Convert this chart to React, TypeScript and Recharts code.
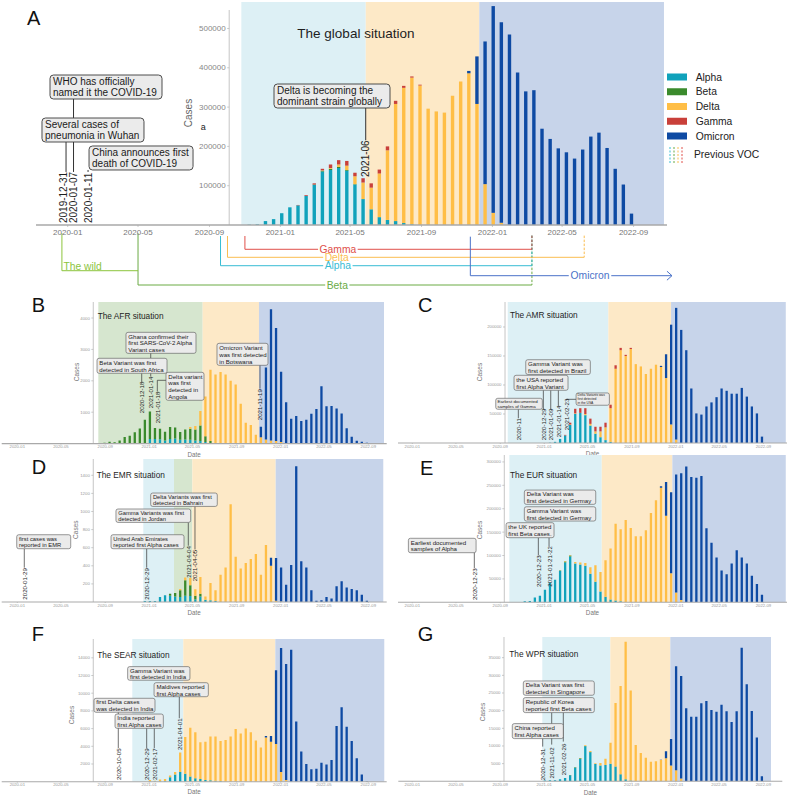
import React from 'react';
import { BarChart, Bar, XAxis, YAxis, ReferenceArea, ReferenceLine, ReferenceDot, Legend } from 'recharts';

const FONT = '"Liberation Sans", Arial, Helvetica, sans-serif';
const EPOCH = Date.UTC(2020, 0, 1);
const toDay = (s: string) => {
  const p = s.split('-').map(Number);
  return Math.round((Date.UTC(p[0], p[1] - 1, p[2] || 1) - EPOCH) / 86400000);
};

// ---------- categories ----------
const DATES = [
  '2020-08-03', '2020-08-17', '2020-08-31', '2020-09-14', '2020-09-28', '2020-10-12', '2020-10-26', '2020-11-09', '2020-11-23', '2020-12-07',
  '2020-12-21', '2021-01-04', '2021-01-18', '2021-02-01', '2021-02-15', '2021-03-01', '2021-03-15', '2021-03-29', '2021-04-12', '2021-04-26',
  '2021-05-10', '2021-05-24', '2021-06-07', '2021-06-21', '2021-07-05', '2021-07-19', '2021-08-02', '2021-08-16', '2021-08-30', '2021-09-13',
  '2021-09-27', '2021-10-11', '2021-10-25', '2021-11-08', '2021-11-22', '2021-12-06', '2021-12-20', '2022-01-03', '2022-01-17', '2022-01-31',
  '2022-02-14', '2022-02-28', '2022-03-14', '2022-03-28', '2022-04-11', '2022-04-25', '2022-05-09', '2022-05-23', '2022-06-06', '2022-06-20',
  '2022-07-04', '2022-07-18', '2022-08-01', '2022-08-15', '2022-08-29',
];
const TICK_LABELS = ['2020-01', '2020-05', '2020-09', '2021-01', '2021-05', '2021-09', '2022-01', '2022-05', '2022-09'];
const TICK_DAYS = TICK_LABELS.map((t) => toDay(t + '-01'));

const SERIES = [
  { key: 'alpha', name: 'Alpha' },
  { key: 'beta', name: 'Beta' },
  { key: 'delta', name: 'Delta' },
  { key: 'gamma', name: 'Gamma' },
  { key: 'omicron', name: 'Omicron' },
];
const COLORS: Record<string, string> = {
  alpha: '#10a2bb', beta: '#3a8a2c', delta: '#ffbe46', gamma: '#c9403a', omicron: '#0e4aa3',
};
const BAND = { light: '#ddf0f5', orange: '#fde9c7', navy: '#c7d4ea', green: '#d6e6cf' };

// ---------- global ----------
const GLOBAL_ALPHA = [
  0, 0, 0, 0, 0, 0, 0, 1000, 2000, 10000,
  15000, 30000, 45000, 50000, 74000, 102000, 136000, 140000, 145000, 138000,
  103000, 66000, 40000, 20000, 13000, 10000, 5000, 2000, 0, 0,
  0, 0, 0, 0, 0, 0, 0, 0, 0, 0,
  0, 0, 0, 0, 0, 0, 0, 0, 0, 0,
  0, 0, 0, 0, 0];
const GLOBAL_BETA = [
  0, 0, 0, 0, 0, 0, 0, 0, 0, 0,
  0, 0, 0, 0, 0, 1000, 2000, 3000, 3000, 2000,
  1000, 0, 0, 0, 0, 0, 0, 0, 0, 0,
  0, 0, 0, 0, 0, 0, 0, 0, 0, 0,
  0, 0, 0, 0, 0, 0, 0, 0, 0, 0,
  0, 0, 0, 0, 0];
const GLOBAL_DELTA = [
  0, 0, 0, 0, 0, 0, 0, 0, 0, 0,
  0, 0, 0, 0, 0, 0, 1000, 2000, 6000, 11000,
  20000, 42000, 55000, 111000, 177000, 298000, 344000, 373000, 355000, 296000,
  289000, 286000, 329000, 365000, 386000, 308000, 104000, 31000, 6000, 0,
  0, 0, 0, 0, 0, 0, 0, 0, 0, 0,
  0, 0, 0, 0, 0];
const GLOBAL_GAMMA = [
  0, 0, 0, 0, 0, 0, 0, 0, 0, 0,
  0, 0, 0, 1000, 2000, 3000, 4000, 9000, 11000, 12000,
  9000, 11000, 11000, 10000, 10000, 8000, 5000, 3000, 2000, 0,
  0, 0, 0, 0, 0, 0, 0, 0, 0, 0,
  0, 0, 0, 0, 0, 0, 0, 0, 0, 0,
  0, 0, 0, 0, 0];
const GLOBAL_OMICRON = [
  0, 0, 0, 0, 0, 0, 0, 0, 0, 0,
  0, 0, 0, 0, 0, 0, 0, 0, 0, 0,
  0, 0, 0, 0, 0, 0, 0, 0, 0, 0,
  0, 0, 0, 0, 6000, 121000, 363000, 526000, 510000, 485000,
  388000, 340000, 343000, 245000, 219000, 195000, 185000, 169000, 192000, 225000,
  235000, 196000, 143000, 103000, 29000];

// ---------- AFR ----------
const AFR_ALPHA = [
  0, 0, 0, 0, 0, 0, 0, 0, 0, 0,
  0, 150, 150, 140, 100, 150, 160, 120, 130, 120,
  100, 80, 50, 20, 0, 0, 0, 0, 0, 0,
  0, 0, 0, 0, 0, 0, 0, 0, 0, 0,
  0, 0, 0, 0, 0, 0, 0, 0, 0, 0,
  0, 0, 0, 0, 0];
const AFR_BETA = [
  0, 0, 30, 60, 40, 100, 210, 250, 360, 480,
  760, 870, 350, 330, 280, 380, 350, 250, 320, 350,
  350, 500, 180, 60, 20, 0, 0, 0, 0, 0,
  0, 0, 0, 0, 0, 0, 0, 0, 0, 0,
  0, 0, 0, 0, 0, 0, 0, 0, 0, 0,
  0, 0, 0, 0, 0];
const AFR_DELTA = [
  0, 0, 0, 0, 0, 0, 0, 0, 0, 0,
  0, 0, 0, 0, 0, 0, 0, 0, 0, 60,
  110, 460, 1270, 2270, 2180, 2280, 2200, 2000, 1880, 1270,
  660, 590, 280, 200, 130, 100, 80, 50, 0, 0,
  0, 0, 0, 0, 0, 0, 0, 0, 0, 0,
  0, 0, 0, 0, 0];
const AFR_OMICRON = [
  0, 0, 0, 0, 0, 0, 0, 0, 0, 0,
  0, 0, 0, 0, 0, 0, 0, 0, 0, 0,
  0, 0, 0, 0, 0, 0, 0, 0, 0, 0,
  0, 0, 0, 340, 2290, 4180, 3600, 2240, 1320, 790,
  880, 720, 760, 950, 1100, 1830, 1190, 1200, 1120, 960,
  490, 220, 90, 60, 30];

// ---------- AMR ----------
const AMR_ALPHA = [
  0, 0, 0, 0, 0, 0, 0, 0, 0, 0,
  0, 0, 500, 2000, 7000, 13000, 31000, 50000, 52000, 48000,
  30000, 16000, 10000, 5000, 2000, 0, 0, 0, 0, 0,
  0, 0, 0, 0, 0, 0, 0, 0, 0, 0,
  0, 0, 0, 0, 0, 0, 0, 0, 0, 0,
  0, 0, 0, 0, 0];
const AMR_DELTA = [
  0, 0, 0, 0, 0, 0, 0, 0, 0, 0,
  0, 0, 0, 0, 0, 0, 1000, 1000, 0, 2000,
  3000, 4000, 10000, 22000, 58000, 128000, 160000, 150000, 162000, 136000,
  132000, 119000, 128000, 135000, 131000, 112000, 32000, 6000, 0, 0,
  0, 0, 0, 0, 0, 0, 0, 0, 0, 0,
  0, 0, 0, 0, 0];
const AMR_GAMMA = [
  0, 0, 0, 0, 0, 0, 0, 0, 0, 0,
  0, 0, 0, 0, 0, 1000, 3000, 8000, 8000, 10000,
  9000, 8000, 8000, 8000, 6000, 6000, 4000, 2000, 2000, 0,
  0, 0, 0, 0, 0, 0, 0, 0, 0, 0,
  0, 0, 0, 0, 0, 0, 0, 0, 0, 0,
  0, 0, 0, 0, 0];
const AMR_OMICRON = [
  0, 0, 0, 0, 0, 0, 0, 0, 0, 0,
  0, 0, 0, 0, 0, 0, 0, 0, 0, 0,
  0, 0, 0, 0, 0, 0, 0, 0, 0, 0,
  0, 0, 0, 0, 2000, 41000, 172000, 227000, 195000, 160000,
  94000, 51000, 49000, 63000, 70000, 79000, 94000, 90000, 85000, 85000,
  95000, 80000, 63000, 51000, 11000];

// ---------- EMR ----------
const EMR_ALPHA = [
  0, 0, 0, 0, 0, 0, 0, 0, 0, 0,
  10, 10, 10, 55, 75, 70, 60, 55, 70, 65,
  30, 60, 25, 20, 10, 0, 0, 0, 0, 0,
  0, 0, 0, 0, 0, 0, 0, 0, 0, 0,
  0, 0, 0, 0, 0, 0, 0, 0, 0, 0,
  0, 0, 0, 0, 0];
const EMR_BETA = [
  0, 0, 0, 0, 0, 0, 0, 0, 0, 0,
  0, 0, 0, 0, 0, 20, 40, 75, 170, 120,
  40, 30, 0, 0, 0, 0, 0, 0, 0, 0,
  0, 0, 0, 0, 0, 0, 0, 0, 0, 0,
  0, 0, 0, 0, 0, 0, 0, 0, 0, 0,
  0, 0, 0, 0, 0];
const EMR_DELTA = [
  0, 0, 0, 0, 0, 0, 0, 0, 0, 0,
  0, 0, 0, 0, 0, 0, 0, 15, 30, 80,
  70, 185, 35, 190, 120, 300, 380, 1080, 500, 370,
  430, 475, 530, 300, 630, 400, 15, 5, 0, 0,
  0, 0, 0, 0, 0, 0, 0, 0, 0, 0,
  0, 0, 0, 0, 0];
const EMR_OMICRON = [
  0, 0, 0, 0, 0, 0, 0, 0, 0, 0,
  0, 0, 0, 0, 0, 0, 0, 0, 0, 0,
  0, 0, 0, 0, 0, 0, 0, 0, 0, 0,
  0, 0, 0, 0, 0, 90, 470, 375, 190, 410,
  1500, 450, 380, 130, 15, 18, 55, 40, 175, 230,
  160, 145, 130, 80, 15];

// ---------- EUR ----------
const EUR_ALPHA = [
  0, 0, 0, 0, 0, 0, 0, 2000, 3000, 10000,
  14000, 27000, 42000, 48000, 67000, 85000, 98000, 83000, 81000, 78000,
  61000, 44000, 23000, 12000, 6000, 4000, 2000, 0, 0, 0,
  0, 0, 0, 0, 0, 0, 0, 0, 0, 0,
  0, 0, 0, 0, 0, 0, 0, 0, 0, 0,
  0, 0, 0, 0, 0];
const EUR_BETA = [
  0, 0, 0, 0, 0, 0, 0, 0, 0, 0,
  0, 0, 0, 0, 1000, 2000, 2000, 0, 0, 0,
  0, 0, 0, 0, 0, 0, 0, 0, 0, 0,
  0, 0, 0, 0, 0, 0, 0, 0, 0, 0,
  0, 0, 0, 0, 0, 0, 0, 0, 0, 0,
  0, 0, 0, 0, 0];
const EUR_DELTA = [
  0, 0, 0, 0, 0, 0, 0, 0, 0, 0,
  0, 0, 0, 0, 0, 1000, 1000, 3000, 4000, 6000,
  14000, 35000, 42000, 78000, 109000, 164000, 154000, 176000, 159000, 141000,
  141000, 154000, 191000, 218000, 245000, 185000, 62000, 21000, 5000, 0,
  0, 0, 0, 0, 0, 0, 0, 0, 0, 0,
  0, 0, 0, 0, 0];
const EUR_OMICRON = [
  0, 0, 0, 0, 0, 0, 0, 0, 0, 0,
  0, 0, 0, 0, 0, 0, 0, 0, 0, 0,
  0, 0, 0, 0, 0, 0, 0, 0, 0, 0,
  0, 0, 0, 0, 3000, 72000, 173000, 252000, 271000, 290000,
  268000, 266000, 270000, 158000, 127000, 96000, 68000, 60000, 83000, 111000,
  96000, 83000, 57000, 39000, 16000];

// ---------- SEAR ----------
const SEAR_ALPHA = [
  0, 0, 0, 0, 0, 0, 0, 0, 0, 0,
  0, 30, 40, 50, 70, 500, 800, 1100, 900, 600,
  400, 300, 200, 150, 100, 80, 0, 0, 0, 0,
  0, 0, 0, 0, 0, 0, 0, 0, 0, 0,
  0, 0, 0, 0, 0, 0, 0, 0, 0, 0,
  0, 0, 0, 0, 0];
const SEAR_DELTA = [
  0, 0, 0, 0, 0, 0, 0, 0, 0, 0,
  30, 150, 60, 200, 230, 200, 300, 2200, 4150, 5500,
  5200, 4150, 4300, 4950, 5000, 4520, 4700, 5100, 5950, 5450,
  6000, 5600, 4650, 3850, 5000, 4500, 4250, 1100, 200, 0,
  0, 0, 0, 0, 0, 0, 0, 0, 0, 0,
  0, 0, 0, 0, 0];
const SEAR_OMICRON = [
  0, 0, 0, 0, 0, 0, 0, 0, 0, 0,
  0, 0, 0, 0, 0, 0, 0, 0, 0, 0,
  0, 0, 0, 0, 0, 0, 0, 0, 0, 0,
  0, 0, 0, 0, 150, 650, 8350, 14000, 13100, 14900,
  6800, 3400, 2000, 1400, 1450, 2150, 1950, 2450, 6300, 8400,
  6200, 4600, 2650, 800, 50];

// ---------- WPR ----------
const WPR_ALPHA = [
  0, 0, 0, 0, 0, 0, 0, 0, 0, 0,
  0, 200, 300, 300, 600, 900, 1700, 3800, 6300, 9900,
  8200, 4900, 4500, 4600, 5000, 4200, 2000, 600, 200, 0,
  0, 0, 0, 0, 0, 0, 0, 0, 0, 0,
  0, 0, 0, 0, 0, 0, 0, 0, 0, 0,
  0, 0, 0, 0, 0];
const WPR_BETA = [
  0, 0, 0, 0, 0, 0, 0, 0, 0, 0,
  0, 0, 0, 0, 0, 0, 100, 200, 200, 100,
  100, 0, 0, 0, 0, 0, 0, 0, 0, 0,
  0, 0, 0, 0, 0, 0, 0, 0, 0, 0,
  0, 0, 0, 0, 0, 0, 0, 0, 0, 0,
  0, 0, 0, 0, 0];
const WPR_DELTA = [
  0, 0, 0, 0, 0, 0, 0, 0, 0, 0,
  0, 0, 0, 0, 0, 0, 0, 0, 100, 200,
  300, 200, 700, 1800, 5900, 18000, 25000, 38900, 25500, 10300,
  8000, 6700, 5500, 5700, 6000, 6500, 4500, 3100, 800, 0,
  0, 0, 0, 0, 0, 0, 0, 0, 0, 0,
  0, 0, 0, 0, 0];
const WPR_OMICRON = [
  0, 0, 0, 0, 0, 0, 0, 0, 0, 0,
  0, 0, 0, 0, 0, 0, 0, 0, 0, 0,
  0, 0, 0, 0, 0, 0, 0, 0, 0, 0,
  0, 0, 0, 0, 100, 2000, 7500, 29500, 29000, 20700,
  18300, 18300, 22100, 22700, 20200, 19700, 21700, 19800, 16800, 19800,
  37800, 27500, 19900, 12400, 1400];

// ---------- variant timeline (panel A) ----------
const TIMELINE = [
  { name: 'Beta', color: '#6aab45', start: '2020-05-01', end: '2022-03-10', tail: 'dash', label: '2021-04-09', top: -21100, level: -152700 },
  { name: 'Alpha', color: '#37bcd4', start: '2020-09-20', end: '2022-03-10', tail: 'dash', label: '2021-04-10', top: -28000, level: -103600 },
  { name: 'Delta', color: '#fbbd50', start: '2020-10-02', end: '2022-06-08', tail: 'dash', label: '2021-04-08', top: -28000, level: -82200 },
  { name: 'Gamma', color: '#e0504a', start: '2020-11-01', end: '2022-03-10', tail: 'dash', label: '2021-04-10', top: -28000, level: -61800 },
  { name: 'Omicron', color: '#4a72c8', start: '2021-11-24', end: '2022-11-06', tail: 'arrow', label: '2022-06-18', top: -29700, level: -129000 },
  { name: 'The wild', color: '#8cc43c', start: '2019-12-22', end: '2020-05-01', tail: 'none', label: '', top: -21100, level: -116300 },
];
const VOC_COLORS = ['#37bcd4', '#6aab45', '#fbbd50', '#e0504a'];

// ---------- helpers ----------
const CW: Record<string, number> = {
  ' ': 0.278, i: 0.222, l: 0.222, j: 0.222, t: 0.278, f: 0.278, r: 0.333, '-': 0.333, I: 0.278,
  m: 0.833, w: 0.722, M: 0.833, W: 0.944, G: 0.778, O: 0.778, C: 0.722, D: 0.722, A: 0.667, B: 0.667, T: 0.611,
};
const textW = (s: string, fs: number) => s.split('').reduce((a, c) => a + (CW[c] ?? 0.556), 0) * fs;

const seg = (key: string, x1: number, y1: number, x2: number, y2: number, stroke: string, w: number, dash?: string) => (
  <ReferenceLine key={key} segment={[{ x: x1, y: y1 }, { x: x2, y: y2 }]} stroke={stroke} strokeWidth={w}
    strokeDasharray={dash} ifOverflow="visible" />
);
const dot = (key: string, x: number, y: number, render: (cx: number, cy: number) => React.ReactElement) => (
  <ReferenceDot key={key} x={x} y={y} r={0} fill="none" stroke="none" ifOverflow="visible"
    shape={(p: any) => render(p.cx, p.cy)} />
);

type Box = { x: number; y: number; w: number; h: number; lines: string[]; fs?: number };
type VLab = { x: number; y: number; text: string };

interface Spec {
  id: string; left: number; top: number; width: number; height: number; ml: number; mr: number; xh: number;
  xDomain: [number, number]; yTop: number; yAxisDay: number; yAxisTop: number; yTicks: number[];
  series: Record<string, number[]>; bands: { x1: number; x2: number; fill: string }[];
  barSize: number; tickFs: number; tickSize: number; tickMargin: number; tickColor: string; axisW: number;
  yTickFs: number; yTickColor: string; yLabel: { y: number; dx: number; fs: number; color: string };
  title: { x: number; y: number; text: string; fs: number; anchor: 'start' | 'middle' };
  dateOffset?: number; boxes: Box[]; boxFs: number; boxStroke: string; boxRx: number; boxSW: number; boxPad: number;
  vlabels: VLab[]; vFs: number; segs: number[][]; segW: number; timeline?: boolean; legend?: boolean;
}

const SMALL = {
  barSize: 2.3, tickFs: 4.2, tickSize: 1, tickMargin: 0.8, tickColor: '#999', axisW: 1.1,
  yTickFs: 4.3, yTickColor: '#999', boxFs: 6.1, boxStroke: '#555', boxRx: 2, boxSW: 0.6, boxPad: 0.3,
  vFs: 6.2, segW: 0.7,
};
const yl = (y: number, dx: number) => ({ y, dx, fs: 6.5, color: '#777' });
const tt = (x: number, y: number, text: string) => ({ x, y, text, fs: 8.3, anchor: 'start' as const });

const SPEC_A: Spec = {
  id: 'A', left: 0, top: 2, width: 789, height: 296, ml: 36, mr: 122, xh: 73,
  xDomain: [-54.6, 1031.5], yTop: 567400, yAxisDay: 278, yAxisTop: 547000,
  yTicks: [100000, 200000, 300000, 400000, 500000],
  series: { alpha: GLOBAL_ALPHA, beta: GLOBAL_BETA, delta: GLOBAL_DELTA, gamma: GLOBAL_GAMMA, omicron: GLOBAL_OMICRON },
  bands: [{ x1: 298.8, x2: 513, fill: BAND.light }, { x1: 513, x2: 708.4, fill: BAND.orange }, { x1: 708.4, x2: 1026.3, fill: BAND.navy }],
  barSize: 3.4, tickFs: 8, tickSize: 2, tickMargin: 2, tickColor: '#777', axisW: 1.5,
  yTickFs: 8, yTickColor: '#888', yLabel: { y: 285000, dx: -41, fs: 10, color: '#666' },
  title: { x: 496, y: 488500, text: 'The global situation', fs: 13.5, anchor: 'middle' },
  boxes: [
    { x: 65.9, y: 351100, w: 112, h: 24, lines: ['WHO has officially', 'named it the COVID-19'] },
    { x: 43.5, y: 241700, w: 102, h: 24, lines: ['Several cases of', 'pneumonia in Wuhan'] },
    { x: 126.2, y: 170500, w: 104, h: 24, lines: ['China announces first', 'death of COVID-19'] },
    { x: 454.9, y: 328200, w: 116, h: 24, lines: ['Delta is becoming the', 'dominant strain globally'] },
  ],
  boxFs: 10, boxStroke: '#3a3a3a', boxRx: 3.5, boxSW: 0.9, boxPad: 0.25,
  vlabels: [
    { x: -8.1, y: 5000, text: '2019-12-31' },
    { x: 10, y: 5000, text: '2020-01-07' },
    { x: 35, y: 5000, text: '2020-01-11' },
    { x: 512.9, y: 122100, text: '2021-06' },
  ],
  vFs: 10,
  segs: [
    [-2.9, 211200, -2.9, 135000], [10, 320600, 10, 272300], [10, 211200, 10, 135000],
    [35, 140000, 35, 135000], [512.9, 297700, 512.9, 215500],
  ],
  segW: 1, timeline: true, legend: true,
};

const SPEC_B: Spec = {
  ...SMALL, id: 'B', left: 0, top: 301.7, width: 395, height: 155.6, ml: 1.7, mr: 8.3, xh: 14,
  xDomain: [-43.3, 1025], yTop: 4510, yAxisDay: 210.9, yAxisTop: 4510, yTicks: [1000, 2000, 3000, 4000],
  series: { alpha: AFR_ALPHA, beta: AFR_BETA, delta: AFR_DELTA, omicron: AFR_OMICRON },
  bands: [{ x1: 224.8, x2: 514.4, fill: BAND.green }, { x1: 514.4, x2: 670.6, fill: BAND.orange }, { x1: 670.6, x2: 1017.5, fill: BAND.navy }],
  yLabel: yl(2280, -17.3), title: tt(223.1, 4077, 'The AFR situation'), dateOffset: 1,
  boxes: [
    { x: 398.7, y: 3210, w: 70, h: 21, lines: ['Ghana confirmed their', 'first SARS-CoV-2 Alpha', 'Variant cases'] },
    { x: 318.3, y: 2478, w: 70, h: 15, lines: ['Beta Variant was first', 'detected in South Africa'] },
    { x: 465.3, y: 1825, w: 38, h: 28, lines: ['Delta variant', 'was first', 'detected in', 'Angola'] },
    { x: 624.9, y: 2844, w: 51, h: 22, lines: ['Omicron Variant', 'was first detected', 'in Botswana'] },
  ],
  vlabels: [
    { x: 345.2, y: 965, text: '2020-12-18' }, { x: 370.2, y: 1124, text: '2021-01-14' },
    { x: 388.5, y: 647, text: '2021-01-18' }, { x: 673.4, y: 742, text: '2021-11-19' },
  ],
  segs: [
    [345.2, 2239, 345.2, 1952], [370.2, 2879, 370.2, 2720], [370.2, 2239, 370.2, 2133],
    [388.5, 1655, 388.5, 2016], [388.5, 2016, 412.6, 2016], [673.4, 2494, 673.4, 1752],
  ],
};

const SPEC_C: Spec = {
  ...SMALL, id: 'C', left: 395, top: 301.7, width: 394, height: 155, ml: 3, mr: 2, xh: 14,
  xDomain: [-39.7, 1039.4], yTop: 243100, yAxisDay: 257.2, yAxisTop: 243100, yTicks: [50000, 100000, 150000, 200000],
  series: { alpha: AMR_ALPHA, delta: AMR_DELTA, gamma: AMR_GAMMA, omicron: AMR_OMICRON },
  bands: [{ x1: 264.7, x2: 543.8, fill: BAND.light }, { x1: 543.8, x2: 717.8, fill: BAND.orange }, { x1: 717.8, x2: 1036, fill: BAND.navy }],
  yLabel: yl(122400, -26), title: tt(270.8, 221200, 'The AMR situation'), dateOffset: 1.5,
  boxes: [
    { x: 404.3, y: 130900, w: 64.6, h: 14.7, lines: ['Gamma Variant was', 'first detected in Brazil'] },
    { x: 357.1, y: 103800, w: 54, h: 15, lines: ['the USA reported', 'first Alpha Variant'] },
    { x: 296.1, y: 67600, w: 46.6, h: 11, fs: 4.4, lines: ['Earliest documented', 'samples of Gamma'] },
    { x: 500.5, y: 75700, w: 33.3, h: 12.3, fs: 3.3, lines: ['Delta Variants was', 'first detected', 'in the USA'] },
  ],
  vlabels: [
    { x: 294.1, y: 4700, text: '2020-11' }, { x: 363.5, y: 4700, text: '2020-12-29' },
    { x: 384, y: 4700, text: '2021-01-09' }, { x: 405.1, y: 9800, text: '2021-01-14' },
    { x: 426.5, y: 21900, text: '2021-02-23' },
  ],
  segs: [
    [294.1, 58100, 294.1, 42600], [363.5, 90900, 363.5, 57600], [384, 90900, 384, 57600],
    [405.1, 90900, 405.1, 62800], [426.5, 75300, 455, 75300],
  ],
};

const SPEC_D: Spec = {
  ...SMALL, id: 'D', left: 0, top: 459.3, width: 395, height: 157, ml: 1.7, mr: 8.3, xh: 14,
  xDomain: [-43.3, 1025], yTop: 1580, yAxisDay: 210.9, yAxisTop: 1580, yTicks: [200, 400, 600, 800, 1000, 1200, 1400],
  series: { alpha: EMR_ALPHA, beta: EMR_BETA, delta: EMR_DELTA, omicron: EMR_OMICRON },
  bands: [{ x1: 349.6, x2: 434.8, fill: BAND.light }, { x1: 434.8, x2: 485.6, fill: BAND.green },
    { x1: 485.6, x2: 717, fill: BAND.orange }, { x1: 717, x2: 1015.5, fill: BAND.navy }],
  yLabel: yl(799, -17.3), title: tt(220.3, 1403, 'The EMR situation'), dateOffset: 0.8,
  boxes: [
    { x: 462.5, y: 1130, w: 66.6, h: 13.4, fs: 5.8, lines: ['Delta Variants was first', 'detected in Bahrain'] },
    { x: 377.4, y: 953.6, w: 74.7, h: 13.4, fs: 5.8, lines: ['Gamma Variants was first', 'detected in Jordan'] },
    { x: 361.3, y: 666, w: 73, h: 14, fs: 5.8, lines: ['United Arab Emirates', 'reported first Alpha cases'] },
    { x: 73.3, y: 666, w: 54, h: 14, fs: 5.8, lines: ['first cases was', 'reported in EMR'] },
  ],
  vlabels: [
    { x: 19.4, y: 25, text: '2020-01-29' }, { x: 359, y: 25, text: '2020-12-29' },
    { x: 474.5, y: 268, text: '2021-04-04' }, { x: 493, y: 228, text: '2021-04-05' },
  ],
  segs: [[19.4, 589, 19.4, 379], [359, 589, 359, 379], [474.5, 880, 474.5, 622], [493, 1056, 493, 581]],
};

const SPEC_E: Spec = {
  ...SMALL, id: 'E', left: 395, top: 455, width: 394, height: 161.3, ml: 3, mr: 2, xh: 14,
  xDomain: [-39.7, 1039.4], yTop: 314800, yAxisDay: 255.3, yAxisTop: 314800,
  yTicks: [50000, 100000, 150000, 200000, 250000, 300000],
  series: { alpha: EUR_ALPHA, beta: EUR_BETA, delta: EUR_DELTA, omicron: EUR_OMICRON },
  bands: [{ x1: 269.1, x2: 525.5, fill: BAND.light }, { x1: 525.5, x2: 721.4, fill: BAND.orange }, { x1: 721.4, x2: 1036, fill: BAND.navy }],
  yLabel: yl(154500, -25.3), title: tt(271, 272000, 'The EUR situation'), dateOffset: 0.8,
  boxes: [
    { x: 409.8, y: 224600, w: 71.4, h: 14.3, lines: ['Delta Variant was', 'first detected in Germay'] },
    { x: 409.8, y: 188900, w: 71.4, h: 14.3, lines: ['Gamma Variant was', 'first detected in Germay'] },
    { x: 326.6, y: 154100, w: 48, h: 15, lines: ['the UK reported', 'first Beta cases.'] },
    { x: 83, y: 121400, w: 67.7, h: 14.4, lines: ['Earliest documented', 'samples  of Alpha'] },
  ],
  vlabels: [
    { x: 172, y: 4900, text: '2020-12-23' }, { x: 349.6, y: 32700, text: '2020-12-23' },
    { x: 379.3, y: 33300, text: '2021-01-21-22' },
  ],
  segs: [[172, 106000, 172, 72700], [349.6, 138000, 349.6, 100400], [379.3, 138000, 379.3, 120300]],
};

const SPEC_F: Spec = {
  ...SMALL, id: 'F', left: 0, top: 639, width: 395, height: 157.7, ml: 1.7, mr: 8.3, xh: 15,
  xDomain: [-43.3, 1025], yTop: 16125, yAxisDay: 210.9, yAxisTop: 16125,
  yTicks: [2000, 4000, 6000, 8000, 10000, 12000, 14000],
  series: { alpha: SEAR_ALPHA, delta: SEAR_DELTA, omicron: SEAR_OMICRON },
  bands: [{ x1: 319.1, x2: 460.6, fill: BAND.light }, { x1: 460.6, x2: 715.9, fill: BAND.orange }, { x1: 715.9, x2: 1018.3, fill: BAND.navy }],
  yLabel: yl(7537, -21.6), title: tt(222, 14317, 'The SEAR situation'), dateOffset: 2.2,
  boxes: [
    { x: 392.6, y: 12235, w: 62.3, h: 13.6, lines: ['Gamma Variant was', 'first detected in India'] },
    { x: 454.8, y: 10396, w: 54.3, h: 14, lines: ['Maldives reported', 'first Alpha cases'] },
    { x: 297.4, y: 8633, w: 61, h: 14, lines: ['first Delta cases', 'was detected in India'] },
    { x: 338.2, y: 6837, w: 48.3, h: 14.3, lines: ['India reported', 'first Alpha cases'] },
  ],
  vlabels: [
    { x: 280.2, y: 192, text: '2020-10-05' }, { x: 359, y: 192, text: '2020-12-29' },
    { x: 380.1, y: 192, text: '2021-02-17' }, { x: 449.5, y: 3582, text: '2021-04-01' },
  ],
  segs: [[280.2, 7842, 280.2, 3774], [359, 6034, 359, 3774], [380.1, 6034, 380.1, 3774], [449.5, 9605, 449.5, 7164]],
};

const SPEC_G: Spec = {
  ...SMALL, id: 'G', left: 395, top: 636.7, width: 394, height: 159.3, ml: 3.3, mr: 6.7, xh: 15,
  xDomain: [-38.8, 1026.6], yTop: 40852, yAxisDay: 254.4, yAxisTop: 40852,
  yTicks: [5000, 10000, 15000, 20000, 25000, 30000, 35000],
  series: { alpha: WPR_ALPHA, beta: WPR_BETA, delta: WPR_DELTA, omicron: WPR_OMICRON },
  bands: [{ x1: 360.7, x2: 549.4, fill: BAND.light }, { x1: 549.4, x2: 715.9, fill: BAND.orange }, { x1: 715.9, x2: 995.3, fill: BAND.navy }],
  yLabel: yl(19619, -21.7), title: tt(269.1, 35954, 'The WPR situation'), dateOffset: 1.5,
  boxes: [
    { x: 406.5, y: 26385, w: 71, h: 14.3, lines: ['Delta Variant was first', 'detected in Singapore'] },
    { x: 406.5, y: 21572, w: 71, h: 15, lines: ['Republic of Korea', 'reported first Beta cases'] },
    { x: 348.2, y: 14212, w: 51, h: 15, lines: ['China reported', 'first Alpha cases'] },
  ],
  vlabels: [
    { x: 361.8, y: 283, text: '2020-12-31' }, { x: 386.8, y: 764, text: '2021-11-02' },
    { x: 419, y: 1699, text: '2021-02-26' },
  ],
  segs: [[361.8, 12088, 361.8, 9824], [386.8, 19449, 386.8, 10390], [419, 19449, 419, 11240]],
};

const SMALL_SPECS = [SPEC_B, SPEC_C, SPEC_D, SPEC_E, SPEC_F, SPEC_G];

const LETTERS = [
  { t: 'A', x: 27, y: 25 }, { t: 'B', x: 31.7, y: 311.7 }, { t: 'C', x: 418, y: 311.7 },
  { t: 'D', x: 31.7, y: 474 }, { t: 'E', x: 420, y: 475 }, { t: 'F', x: 31.7, y: 641 }, { t: 'G', x: 417.7, y: 640.5 },
];

function LegendBox() {
  return (
    <svg width={110} height={100} style={{ overflow: 'visible', fontFamily: FONT }}>
      {SERIES.map((s, i) => {
        const y = 9 + i * 14.75;
        return (
          <g key={s.key}>
            <rect x={0} y={y - 3.5} width={20} height={7} fill={COLORS[s.key]} />
            <text x={28.7} y={y} fontSize={10.3} dominantBaseline="central" fill="#222">{s.name}</text>
          </g>
        );
      })}
      {VOC_COLORS.map((c, i) => (
        <line key={c} x1={3 + 4 * i} x2={3 + 4 * i} y1={79} y2={95} stroke={c} strokeWidth={1} strokeDasharray="2 1.5" />
      ))}
      <text x={27} y={86} fontSize={10.3} dominantBaseline="central" fill="#222">Previous VOC</text>
    </svg>
  );
}

function PanelChart({ spec }: { spec: Spec }) {
  const rows = DATES.map((d, i) => {
    const r: Record<string, number> = { day: toDay(d) };
    SERIES.forEach((s) => {
      const arr = spec.series[s.key];
      r[s.key] = arr ? arr[i] : 0;
    });
    return r;
  });
  const present = SERIES.filter((s) => spec.series[s.key]);

  const bands = spec.bands.map((b, i) => (
    <ReferenceArea key={`band${i}`} x1={b.x1} x2={b.x2} y1={0} y2={spec.yTop} fill={b.fill} fillOpacity={1}
      stroke="none" ifOverflow="visible" />
  ));
  const bars = present.map((s) => (
    <Bar key={s.key} dataKey={s.key} name={s.name} stackId="v" fill={COLORS[s.key]} barSize={spec.barSize}
      isAnimationActive={false} />
  ));

  const lines: React.ReactElement[] = [];
  lines.push(seg('yaxis', spec.yAxisDay, 0, spec.yAxisDay, spec.yAxisTop, '#cfcfcf', 1.2));
  spec.segs.forEach((s, i) => lines.push(seg(`seg${i}`, s[0], s[1], s[2], s[3], '#333', spec.segW)));

  const gaps: React.ReactElement[] = [];
  const dots: React.ReactElement[] = [];
  if (spec.timeline) {
    TIMELINE.forEach((v) => {
      const x0 = toDay(v.start);
      const x1 = toDay(v.end);
      lines.push(seg(`tlv${v.name}`, x0, v.top, x0, v.level, v.color, 1));
      lines.push(seg(`tlh${v.name}`, x0, v.level, x1, v.level, v.color, 1));
      if (v.tail === 'dash') lines.push(seg(`tld${v.name}`, x1, -27000, x1, v.level, v.color, 1, '2.5 1.5'));
      if (v.tail === 'arrow') {
        dots.push(dot(`tla${v.name}`, x1, v.level, (cx, cy) => (
          <path d={`M${cx - 5},${cy - 4.5} L${cx},${cy} L${cx - 5},${cy + 4.5}`} fill="none" stroke={v.color} strokeWidth={1} />
        )));
      }
      if (v.label) {
        const fs = 10.3;
        const w = textW(v.name, fs);
        // white gap that breaks the line behind the label
        gaps.push(dot(`tlg${v.name}`, toDay(v.label), v.level, (cx, cy) => (
          <rect x={cx - w / 2 - 1.5} y={cy - 1.8} width={w + 3} height={3.6} fill="#fff" />
        )));
        dots.push(dot(`tll${v.name}`, toDay(v.label), v.level, (cx, cy) => (
          <text x={cx} y={cy} textAnchor="middle" dominantBaseline="central" fontSize={fs} fill={v.color}>{v.name}</text>
        )));
      } else {
        dots.push(dot(`tll${v.name}`, x0, v.level, (cx, cy) => (
          <text x={cx + 1.6} y={cy - 4.7} dominantBaseline="central" fontSize={10.3} fill={v.color}>{v.name}</text>
        )));
      }
    });
  }

  spec.yTicks.forEach((t) => dots.push(dot(`yt${t}`, spec.yAxisDay, t, (cx, cy) => (
    <g>
      <line x1={cx - 2} x2={cx} y1={cy} y2={cy} stroke="#bbb" strokeWidth={0.8} />
      <text x={cx - 3.5} y={cy} textAnchor="end" dominantBaseline="central" fontSize={spec.yTickFs} fill={spec.yTickColor}>{t}</text>
    </g>
  ))));
  dots.push(dot('ylab', spec.yAxisDay, spec.yLabel.y, (cx, cy) => (
    <text x={cx + spec.yLabel.dx} y={cy} transform={`rotate(-90 ${cx + spec.yLabel.dx} ${cy})`} textAnchor="middle"
      dominantBaseline="central" fontSize={spec.yLabel.fs} fill={spec.yLabel.color}>Cases</text>
  )));
  if (spec.id === 'A') {
    dots.push(dot('a-mark', spec.yAxisDay, 249000, (cx, cy) => (
      <text x={cx - 26} y={cy} textAnchor="middle" dominantBaseline="central" fontSize={9} fill="#222">a</text>
    )));
  }
  dots.push(dot('title', spec.title.x, spec.title.y, (cx, cy) => (
    <text x={cx} y={cy} textAnchor={spec.title.anchor} dominantBaseline="central" fontSize={spec.title.fs} fill="#1e1e1e">{spec.title.text}</text>
  )));
  spec.vlabels.forEach((v, i) => dots.push(dot(`vl${i}`, v.x, v.y, (cx, cy) => (
    <text x={cx} y={cy} transform={`rotate(-90 ${cx} ${cy})`} textAnchor="start" dominantBaseline="central"
      fontSize={spec.vFs} fill="#1e1e1e">{v.text}</text>
  ))));
  spec.boxes.forEach((b, i) => dots.push(dot(`box${i}`, b.x, b.y, (cx, cy) => {
    const fs = b.fs ?? spec.boxFs;
    const lh = fs * 1.1;
    const n = b.lines.length;
    const x0 = cx - b.w / 2;
    return (
      <g>
        <rect x={x0} y={cy - b.h / 2} width={b.w} height={b.h} rx={spec.boxRx} fill="#ebebeb" stroke={spec.boxStroke}
          strokeWidth={spec.boxSW} />
        {b.lines.map((t, k) => (
          <text key={k} x={x0 + fs * spec.boxPad + 0.5} y={cy + (k - (n - 1) / 2) * lh} dominantBaseline="central"
            fontSize={fs} fill="#1a1a1a">{t}</text>
        ))}
      </g>
    );
  })));

  const isA = spec.id === 'A';
  return (
    <div style={{ position: 'absolute', left: spec.left, top: spec.top }}>
      <BarChart width={spec.width} height={spec.height} data={rows}
        margin={{ top: 0, bottom: 0, left: spec.ml, right: spec.mr }}>
        <XAxis type="number" dataKey="day" domain={spec.xDomain} allowDataOverflow ticks={TICK_DAYS} interval={0}
          tickFormatter={(v: number) => TICK_LABELS[TICK_DAYS.indexOf(v)] ?? ''} height={spec.xh}
          tick={{ fontSize: spec.tickFs, fill: spec.tickColor }} tickSize={spec.tickSize} tickMargin={spec.tickMargin}
          axisLine={{ stroke: '#a9a9a9', strokeWidth: spec.axisW }} tickLine={{ stroke: '#a9a9a9', strokeWidth: 0.6 }}
          label={isA ? undefined : { value: 'Date', position: 'insideBottom', offset: spec.dateOffset ?? 1, fontSize: 6.3, fill: '#777' }} />
        <YAxis type="number" hide width={0} domain={[0, spec.yTop]} allowDataOverflow />
        {bands}
        {bars}
        {lines}
        {gaps}
        {dots}
        {spec.legend ? (
          <Legend layout="vertical" align="center" verticalAlign="middle"
            wrapperStyle={{ left: 667, top: 66, width: 110, height: 100 }} content={() => <LegendBox />} />
        ) : null}
      </BarChart>
    </div>
  );
}

export default function App() {
  return (
    <div style={{ position: 'absolute', left: 0, top: 0, width: 789, height: 797, background: '#fff', overflow: 'hidden', fontFamily: FONT }}>
      <PanelChart spec={SPEC_A} />
      {SMALL_SPECS.map((s) => <PanelChart key={s.id} spec={s} />)}
      <svg width={789} height={797} style={{ position: 'absolute', left: 0, top: 0, pointerEvents: 'none' }}>
        {LETTERS.map((l) => (
          <text key={l.t} x={l.x} y={l.y} fontSize={20} fill="#111" fontFamily={FONT}>{l.t}</text>
        ))}
      </svg>
    </div>
  );
}
